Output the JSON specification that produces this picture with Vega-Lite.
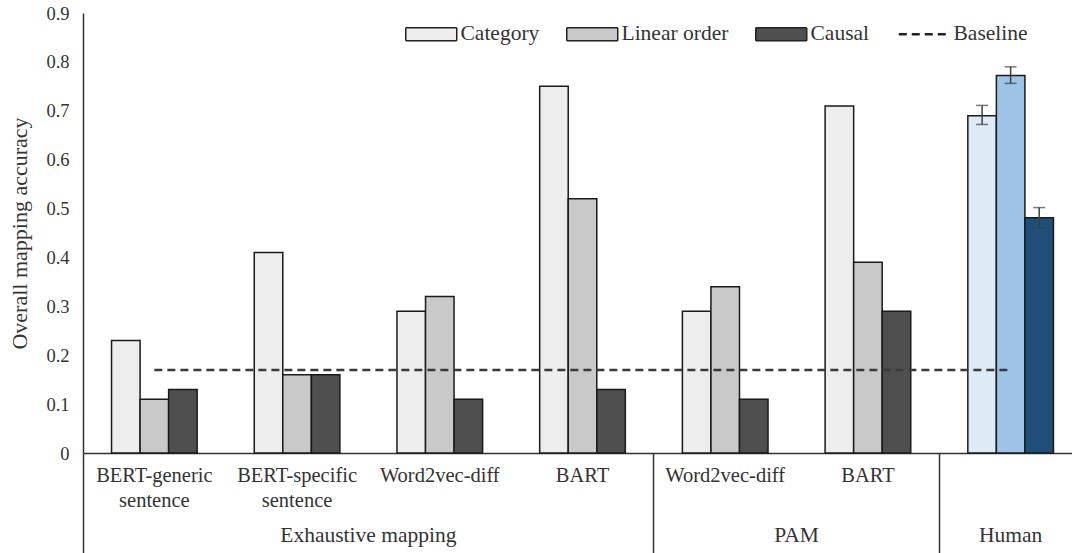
{
  "$schema": "https://vega.github.io/schema/vega-lite/v6.json",
  "autosize": {"type": "none"},
  "padding": {"left": 83, "top": 13, "right": 0, "bottom": 100},
  "width": 989,
  "height": 440,
  "background": "#ffffff",
  "config": {
    "view": {"stroke": null},
    "font": "Liberation Serif",
    "axis": {"labelFont": "Liberation Serif", "titleFont": "Liberation Serif", "labelColor": "#333333", "titleColor": "#333333", "titleFontWeight": "normal", "grid": false}
  },
  "datasets": {
    "bars": [
      {"condition": "BERT-generic sentence", "series": "Category", "shade": "Category", "accuracy": 0.23},
      {"condition": "BERT-generic sentence", "series": "Linear order", "shade": "Linear order", "accuracy": 0.11},
      {"condition": "BERT-generic sentence", "series": "Causal", "shade": "Causal", "accuracy": 0.13},
      {"condition": "BERT-specific sentence", "series": "Category", "shade": "Category", "accuracy": 0.41},
      {"condition": "BERT-specific sentence", "series": "Linear order", "shade": "Linear order", "accuracy": 0.16},
      {"condition": "BERT-specific sentence", "series": "Causal", "shade": "Causal", "accuracy": 0.16},
      {"condition": "Word2vec-diff", "series": "Category", "shade": "Category", "accuracy": 0.29},
      {"condition": "Word2vec-diff", "series": "Linear order", "shade": "Linear order", "accuracy": 0.32},
      {"condition": "Word2vec-diff", "series": "Causal", "shade": "Causal", "accuracy": 0.11},
      {"condition": "BART", "series": "Category", "shade": "Category", "accuracy": 0.75},
      {"condition": "BART", "series": "Linear order", "shade": "Linear order", "accuracy": 0.52},
      {"condition": "BART", "series": "Causal", "shade": "Causal", "accuracy": 0.13},
      {"condition": "PAM Word2vec-diff", "series": "Category", "shade": "Category", "accuracy": 0.29},
      {"condition": "PAM Word2vec-diff", "series": "Linear order", "shade": "Linear order", "accuracy": 0.34},
      {"condition": "PAM Word2vec-diff", "series": "Causal", "shade": "Causal", "accuracy": 0.11},
      {"condition": "PAM BART", "series": "Category", "shade": "Category", "accuracy": 0.71},
      {"condition": "PAM BART", "series": "Linear order", "shade": "Linear order", "accuracy": 0.39},
      {"condition": "PAM BART", "series": "Causal", "shade": "Causal", "accuracy": 0.29},
      {"condition": "Human", "series": "Category", "shade": "Human Category", "accuracy": 0.69, "lo": 0.672, "hi": 0.711},
      {"condition": "Human", "series": "Linear order", "shade": "Human Linear order", "accuracy": 0.772, "lo": 0.756, "hi": 0.79},
      {"condition": "Human", "series": "Causal", "shade": "Human Causal", "accuracy": 0.481, "lo": 0.46, "hi": 0.502}
    ],
    "base": [
      {"condition": "BERT-generic sentence", "baseline": 0.17},
      {"condition": "BERT-specific sentence", "baseline": 0.17},
      {"condition": "Word2vec-diff", "baseline": 0.17},
      {"condition": "BART", "baseline": 0.17},
      {"condition": "PAM Word2vec-diff", "baseline": 0.17},
      {"condition": "PAM BART", "baseline": 0.17},
      {"condition": "Human", "baseline": 0.17}
    ]
  },
  "resolve": {"scale": {"x": "shared"}, "axis": {"x": "independent"}},
  "layer": [
    {
      "data": {"name": "bars"},
      "mark": {"type": "bar", "stroke": "#1a1a1a", "strokeWidth": 1.5},
      "encoding": {
        "x": {
          "field": "condition", "type": "nominal",
          "scale": {"domain": ["BERT-generic sentence", "BERT-specific sentence", "Word2vec-diff", "BART", "PAM Word2vec-diff", "PAM BART", "Human"], "range": [0, 999], "paddingInner": 0, "paddingOuter": 0},
          "axis": {
            "orient": "bottom", "title": null, "labelAngle": 0, "ticks": false, "domain": true, "domainColor": "#333333", "domainWidth": 1.5,
            "labelFontSize": 20.5, "labelPadding": 12, "labelLineHeight": 25, "labelOverlap": false, "labelBound": false,
            "labelExpr": "datum.label == 'BERT-generic sentence' ? ['BERT-generic', 'sentence'] : datum.label == 'BERT-specific sentence' ? ['BERT-specific', 'sentence'] : datum.label == 'Human' ? '' : replace(datum.label, 'PAM ', '')"
          }
        },
        "xOffset": {"field": "series", "type": "nominal", "sort": ["Category", "Linear order", "Causal"], "scale": {"paddingInner": 0, "paddingOuter": 1.08}},
        "y": {
          "field": "accuracy", "type": "quantitative",
          "scale": {"domain": [0, 0.9], "nice": false},
          "axis": {"title": "Overall mapping accuracy", "titleFontSize": 22, "titlePadding": 14, "ticks": false, "labelPadding": 14, "labelFontSize": 18.5, "values": [0, 0.1, 0.2, 0.3, 0.4, 0.5, 0.6, 0.7, 0.8, 0.9], "format": ".1~f", "domainColor": "#333333", "domainWidth": 1.5}
        },
        "fill": {
          "field": "shade", "type": "nominal",
          "scale": {"domain": ["Category", "Linear order", "Causal", "Baseline", "Human Category", "Human Linear order", "Human Causal"], "range": ["#ededed", "#c9c9c9", "#4f4f4f", "#ffffff", "#ddebf7", "#9dc3e6", "#1f4e79"]},
          "legend": {
            "title": null, "orient": "none", "legendX": 322, "legendY": 10, "direction": "horizontal", "padding": 0,
            "values": ["Category", "Linear order", "Causal", "Baseline"],
            "symbolSize": 400, "symbolType": "M-1,-0.65H4.1V0.65H-1Z", "symbolStrokeColor": "#222222", "symbolStrokeWidth": 1.5,
            "labelFont": "Liberation Serif", "labelFontSize": 21.5, "labelColor": "#333333", "labelOffset": 34, "columnPadding": 23, "labelLimit": 300,
            "encode": {"symbols": {"update": {
              "shape": {"signal": "datum.label === 'Baseline' ? 'M-1,0H4' : 'M-1,-0.65H4.1V0.65H-1Z'"},
              "strokeDash": {"signal": "datum.label === 'Baseline' ? [8, 5] : [1, 0]"},
              "strokeWidth": {"signal": "datum.label === 'Baseline' ? 2.5 : 1.5"},
              "stroke": {"value": "#222222"}
            }}}
          }
        }
      }
    },
    {
      "data": {"name": "bars"},
      "transform": [{"filter": "isValid(datum.lo)"}],
      "mark": {"type": "rule", "color": "#404040", "strokeWidth": 1.5},
      "encoding": {
        "x": {"field": "condition", "type": "nominal", "axis": null},
        "xOffset": {"field": "series", "type": "nominal", "sort": ["Category", "Linear order", "Causal"]},
        "y": {"field": "lo", "type": "quantitative"},
        "y2": {"field": "hi"}
      }
    },
    {
      "data": {"name": "bars"},
      "transform": [{"filter": "isValid(datum.lo)"}],
      "mark": {"type": "tick", "color": "#404040", "thickness": 1.5, "size": 12},
      "encoding": {
        "x": {"field": "condition", "type": "nominal", "axis": null},
        "xOffset": {"field": "series", "type": "nominal", "sort": ["Category", "Linear order", "Causal"]},
        "y": {"field": "lo", "type": "quantitative"}
      }
    },
    {
      "data": {"name": "bars"},
      "transform": [{"filter": "isValid(datum.hi)"}],
      "mark": {"type": "tick", "color": "#404040", "thickness": 1.5, "size": 12},
      "encoding": {
        "x": {"field": "condition", "type": "nominal", "axis": null},
        "xOffset": {"field": "series", "type": "nominal", "sort": ["Category", "Linear order", "Causal"]},
        "y": {"field": "hi", "type": "quantitative"}
      }
    },
    {
      "data": {"name": "base"},
      "mark": {"type": "line", "color": "#3a3a3a", "strokeWidth": 2.5, "strokeDash": [8, 5]},
      "encoding": {
        "x": {
          "field": "condition", "type": "nominal",
          "axis": {
            "orient": "bottom", "title": null, "labelAngle": 0, "domain": false, "ticks": true, "tickSize": 100, "tickWidth": 1.5, "tickColor": "#333333", "bandPosition": 0,
            "values": ["BERT-generic sentence", "Word2vec-diff", "PAM Word2vec-diff", "PAM BART", "Human"],
            "tickOpacity": {"condition": {"test": "datum.value == 'BERT-generic sentence' || datum.value == 'PAM Word2vec-diff' || datum.value == 'Human'", "value": 1}, "value": 0},
            "labelOffset": {"condition": {"test": "datum.value == 'Human'", "value": 0}, "value": -71.4},
            "labelFontSize": 21.5, "labelPadding": -29, "labelOverlap": false, "labelBound": false,
            "labelExpr": "datum.label == 'Word2vec-diff' ? 'Exhaustive mapping' : datum.label == 'PAM BART' ? 'PAM' : datum.label == 'Human' ? 'Human' : ''"
          }
        },
        "y": {"field": "baseline", "type": "quantitative"}
      }
    }
  ]
}
